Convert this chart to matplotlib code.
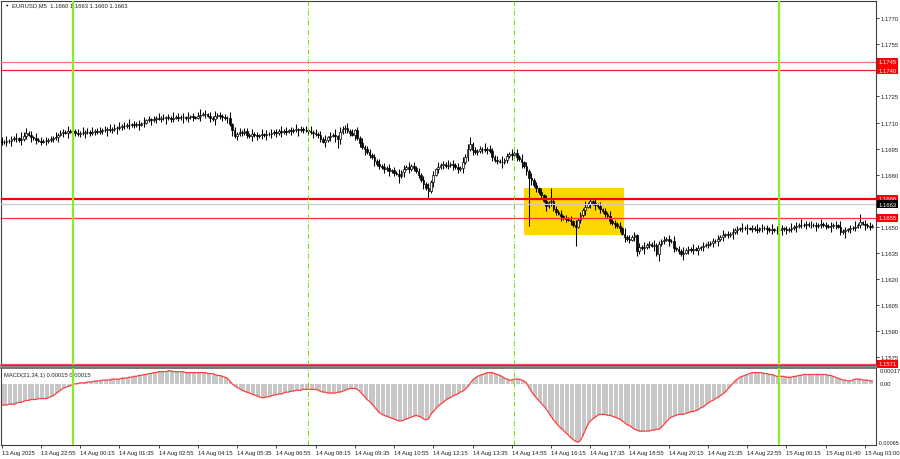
import numpy as np
import matplotlib.pyplot as plt
from matplotlib.patches import Rectangle

plt.rcParams['font.family'] = ['Liberation Sans', 'DejaVu Sans']

# EURUSD M5, closes in points (0.00001) above 1.16000, one value per bar
BASE = 1.16
close_pts = [
    990, 985, 995, 992, 1005, 1012, 1008, 1000, 1003, 1025,
    1040, 1030, 1015, 1008, 998, 995, 990, 996, 993, 1000,
    1005, 1012, 1018, 1030, 1038, 1045, 1042, 1050, 1048, 1052,
    1040, 1035, 1042, 1038, 1045, 1048, 1040, 1046, 1050, 1044,
    1052, 1058, 1055, 1062, 1058, 1063, 1070, 1066, 1075, 1082,
    1080, 1088, 1085, 1090, 1086, 1092, 1088, 1095, 1100, 1112,
    1118, 1115, 1120, 1125, 1122, 1128, 1124, 1130, 1126, 1122,
    1128, 1132, 1127, 1134, 1130, 1125, 1131, 1136, 1130, 1128,
    1138, 1145, 1150, 1147, 1140, 1125, 1118, 1135, 1142, 1138,
    1130, 1125, 1128, 1090, 1055, 1020, 1035, 1048, 1040, 1050,
    1030, 1022, 1035, 1028, 1020, 1026, 1032, 1028, 1036, 1032,
    1040, 1045, 1038, 1050, 1046, 1052, 1048, 1055, 1050, 1058,
    1060, 1054, 1062, 1058, 1056, 1050, 1045, 1040, 1035, 1030,
    1005, 990, 1000, 1015, 1025, 1030, 1020, 1005, 1045, 1060,
    1066, 1050, 1040, 1030, 1055, 1010, 980, 960, 945, 930,
    915, 900, 880, 860, 850, 845, 830, 840, 820, 825,
    810, 805, 790, 815, 835, 845, 830, 850, 840, 820,
    800, 770, 745, 720, 705, 760, 800, 830, 845, 855,
    860, 850, 856, 862, 855, 845, 830, 840, 870, 900,
    945, 975, 940, 930, 935, 945, 950, 940, 948, 935,
    900, 885, 880, 875, 870, 885, 905, 920, 915, 925,
    900, 890, 870, 850, 820, 780, 770, 740, 720, 700,
    680, 650, 620, 640, 650, 600, 585, 575, 560, 550,
    545, 540, 530, 510, 500, 540, 565, 595, 615, 630,
    645, 635, 625, 620, 600, 590, 575, 560, 535, 520,
    515, 505, 490, 460, 440, 430, 425, 440, 450, 360,
    385, 375, 380, 395, 400, 390, 395, 345, 400, 420,
    425, 430, 420, 415, 375, 370, 360, 340, 350, 365,
    370, 365, 372, 368, 375, 380, 390, 395, 400, 405,
    415, 420, 430, 440, 450, 455, 452, 460, 470, 480,
    485, 490, 492, 495, 490, 488, 492, 485, 482, 490,
    494, 490, 486, 480, 484, 482, 478, 480, 490, 485,
    480, 488, 492, 498, 505, 510, 512, 508, 515, 510,
    512, 508, 505, 510, 514, 508, 506, 500, 505, 510,
    508, 500, 470, 475, 480, 485, 490, 495, 500, 510,
    525, 518, 510, 505, 500, 505,
]
first_open = 995

# wick lengths in pips, one digit per bar
wick_up = "".join([
    "2131213142", "3121312121", "2131221312", "1213121312", "2121312131",
    "2131212131", "2121312121", "3121213121", "2312121312", "1213121212",
    "2131213121", "2121312121", "3121213121", "2131213132", "2312121312",
    "2121312121", "2131213121", "2121312131", "2131212132", "3412121312",
    "2121312131", "2131213121", "2131712121", "2121312131", "2131212131",
    "2121312121", "2131213121", "2121312131", "2131212121", "2121312121",
    "2131212131", "2121312121", "2131213121", "2121312121", "2131212131",
    "512121",
])
wick_dn = "".join([
    "2121312131", "2131212121", "1213121312", "2121312121", "1213121312",
    "2121213121", "1312121312", "2121312121", "1312121312", "2131312121",
    "2131212131", "2121312121", "1312121312", "2131213531", "2121312131",
    "2131212131", "2141312121", "2131413121", "2121312131", "2131212121",
    "2121312131", "2131213121", "2131212131", "2121312131", "2131212121",
    "2121312123", "2131213141", "2131212131", "2121312121", "2131212131",
    "2121312121", "2131212131", "2121312121", "2131212131", "2121412121",
    "213121",
])
low_spikes = {215: 505, 234: 388, 259: 330, 267: 330}

# MACD(21,34,1) main line, units of 0.00001
macd_pts = [
    -23, -23, -23, -22, -22, -22, -21, -20, -20, -19,
    -18, -18, -17, -17, -17, -16, -16, -16, -16, -15,
    -14, -13, -11, -9, -7, -5, -4, -3, -2, -1,
    0, 0, 1, 1, 1, 2, 2, 2, 3, 3,
    3, 4, 4, 4, 4, 5, 5, 5, 5, 6,
    6, 6, 7, 7, 8, 8, 9, 9, 10, 10,
    11, 11, 12, 12, 13, 13, 13, 13, 14, 14,
    13, 13, 13, 13, 13, 12, 12, 12, 12, 12,
    12, 12, 12, 12, 11, 11, 11, 10, 9, 9,
    8, 7, 6, 3, 0, -2, -4, -5, -7, -8,
    -9, -10, -11, -12, -13, -14, -15, -15, -14, -14,
    -13, -12, -12, -11, -11, -10, -9, -9, -8, -8,
    -7, -7, -7, -6, -6, -6, -6, -6, -6, -7,
    -8, -9, -9, -10, -10, -10, -10, -9, -9, -8,
    -7, -6, -5, -5, -5, -6, -8, -11, -14, -17,
    -19, -22, -25, -28, -31, -33, -34, -35, -36, -37,
    -38, -39, -40, -40, -39, -38, -37, -36, -35, -34,
    -35, -36, -38, -39, -38, -33, -30, -27, -24, -22,
    -20, -18, -16, -15, -13, -12, -11, -9, -8, -6,
    -3, 0, 4, 6, 8, 9, 10, 11, 12, 12,
    12, 11, 10, 9, 8, 6, 5, 4, 4, 5,
    5, 5, 4, 3, 1, -4, -8, -12, -15, -18,
    -21, -24, -27, -31, -35, -39, -42, -45, -48, -50,
    -53, -55, -58, -60, -62, -63, -61, -56, -50, -44,
    -40, -38, -36, -34, -33, -33, -33, -34, -34, -35,
    -36, -37, -38, -40, -42, -44, -45, -47, -49, -50,
    -51, -51, -51, -51, -51, -50, -50, -49, -49, -47,
    -44, -41, -38, -36, -35, -34, -33, -33, -33, -32,
    -31, -30, -30, -29, -28, -26, -25, -23, -21, -19,
    -18, -16, -15, -13, -11, -9, -6, -3, 0, 3,
    5, 7, 8, 9, 10, 11, 12, 12, 12, 12,
    12, 11, 11, 10, 10, 9, 8, 8, 8, 8,
    7, 7, 7, 8, 8, 9, 9, 10, 10, 10,
    10, 10, 10, 10, 10, 10, 10, 9, 9, 8,
    7, 6, 5, 4, 4, 3, 3, 4, 5, 5,
    5, 4, 4, 4, 3, 3,
]

time_labels = ["13 Aug 2025", "13 Aug 22:55", "14 Aug 00:15", "14 Aug 01:35",
               "14 Aug 02:55", "14 Aug 04:15", "14 Aug 05:35", "14 Aug 06:55",
               "14 Aug 08:15", "14 Aug 09:35", "14 Aug 10:55", "14 Aug 12:15",
               "14 Aug 13:35", "14 Aug 14:55", "14 Aug 16:15", "14 Aug 17:35",
               "14 Aug 18:55", "14 Aug 20:15", "14 Aug 21:35", "14 Aug 22:55",
               "15 Aug 00:15", "15 Aug 01:40", "15 Aug 03:00"]
time_bars = [0, 16, 32, 48, 64, 80, 96, 112, 128, 144, 160, 176, 192, 208,
             224, 240, 256, 272, 288, 304, 320, 336, 352]

price_ticks = [1.1770, 1.1755, 1.1725, 1.1710, 1.1695, 1.1680,
               1.1650, 1.1635, 1.1620, 1.1605, 1.1590, 1.1575]
red_levels = [1.1745, 1.1740, 1.1666, 1.1655, 1.1571]
bid_price = 1.1663
solid_vlines = [29, 317]      # 14 Aug 00:00, 15 Aug 00:00
dash_vlines = [125, 209]      # 14 Aug 08:00, 14 Aug 15:00
zone_bars = (213, 253.7)
zone_prices = (1.16452, 1.16722)

assert len(close_pts) == len(macd_pts) == len(wick_up) == len(wick_dn)

n = len(close_pts)
idx = np.arange(n)
c = BASE + np.array(close_pts) / 1e5
o = np.concatenate([[BASE + first_open / 1e5], c[:-1]])
hi = np.maximum(o, c) + np.array([int(d) for d in wick_up]) * 1e-4
lo = np.minimum(o, c) - np.array([int(d) for d in wick_dn]) * 1e-4
for k, v in low_spikes.items():
    lo[k] = BASE + v / 1e5
macd = np.array(macd_pts) / 1e5

fig = plt.figure(figsize=(9, 4.6), dpi=100)
W, H = 900, 460
ax = fig.add_axes([1 / W, 1 - 366 / H, 875 / W, 364 / H])
ax2 = fig.add_axes([1 / W, 1 - 446 / H, 875 / W, 77 / H])

fs = 4.2
for a in (ax, ax2):
    a.set_xlim(-0.24, 356.5)
    for s in a.spines.values():
        s.set_color('#404040')
        s.set_linewidth(0.8)
ax.spines['bottom'].set_color('#606060')
ax.spines['bottom'].set_linewidth(1.8)
ax2.spines['top'].set_color('#606060')
ax2.spines['top'].set_linewidth(1.2)

# price panel
ax.set_ylim(1.15703, 1.17800)
ax.add_patch(Rectangle((zone_bars[0], zone_prices[0]), zone_bars[1] - zone_bars[0],
                       zone_prices[1] - zone_prices[0], facecolor='#ffd700',
                       edgecolor='none', zorder=0))
ax.vlines(idx, lo, hi, color='black', lw=0.75, zorder=3)
up = c >= o
body_lo = np.minimum(o, c)
body_h = np.maximum(np.abs(c - o), 0.00001)
ax.bar(idx[up], body_h[up], bottom=body_lo[up], width=0.7, facecolor='white',
       edgecolor='black', linewidth=0.5, zorder=4)
ax.bar(idx[~up], body_h[~up], bottom=body_lo[~up], width=0.7, facecolor='black',
       edgecolor='black', linewidth=0.5, zorder=4)

line_styles = {1.1745: ('#ff7070', 0.9), 1.1740: ('#ee2020', 0.9),
               1.1666: ('#ff0000', 1.6), 1.1655: ('#ff3030', 0.9),
               1.1571: ('#ff4040', 0.9)}
ax.axhline(bid_price, color='#c8c8c8', lw=0.9, zorder=5)
for lv in red_levels:
    col, lw = line_styles[lv]
    ax.axhline(lv, color=col, lw=lw, zorder=5)

ax.yaxis.tick_right()
ax.set_yticks(price_ticks, [f"{p:.4f}" for p in price_ticks])
ax.tick_params(axis='y', length=2, width=0.6, pad=1.5, labelsize=fs,
               colors='#202020')
ax.set_xticks([])

ytr = ax.get_yaxis_transform()
for lv in red_levels:
    ax.text(1.003, lv, f"{lv:.4f}", transform=ytr, ha='left', va='center',
            fontsize=fs, color='white', clip_on=False, zorder=10,
            bbox=dict(boxstyle='square,pad=0.25', facecolor='#ff0000', edgecolor='none'))
ax.text(1.003, bid_price, f"{bid_price:.4f}", transform=ytr, ha='left', va='center',
        fontsize=fs, color='white', clip_on=False, zorder=10,
        bbox=dict(boxstyle='square,pad=0.25', facecolor='black', edgecolor='none'))

ax.text(0.004, 0.989, "\u25bc", transform=ax.transAxes, fontsize=3.2,
        ha='left', va='center', color='#202020')
ax.text(0.0126, 0.989, "EURUSD,M5  1.1660 1.1663 1.1660 1.1663", transform=ax.transAxes,
        fontsize=fs, ha='left', va='center', color='#202020')

# MACD panel
ax2.set_ylim(-0.00066, 0.00017)
ax2.vlines(idx, 0, macd, color='#bcbcbc', lw=1.2, zorder=2)
ax2.plot(idx, macd, color='#ff3c3c', lw=0.9, zorder=3)
ax2.set_yticks([])
ax2.text(0.003, 0.92, "MACD(21,34,1) 0.00015 0.00015", transform=ax2.transAxes,
         fontsize=fs, ha='left', va='center', color='#202020')
ytr2 = ax2.get_yaxis_transform()
ax2.text(1.004, 0.00017, "0.00017", transform=ytr2, ha='left', va='top',
         fontsize=fs, color='#202020', clip_on=False)
ax2.text(1.004, 0.0, "0.00", transform=ytr2, ha='left', va='center',
         fontsize=fs, color='#202020', clip_on=False)
ax2.text(1.0015, -0.00066, "-0.00065", transform=ytr2, ha='left', va='bottom',
         fontsize=3.9, color='#202020', clip_on=False)

ax2.set_xticks(time_bars, time_labels, ha='left')
ax2.tick_params(axis='x', length=2, width=0.6, pad=1.5, labelsize=fs,
                colors='#202020')

# vertical markers across both panels
for a in (ax, ax2):
    for b in solid_vlines:
        a.axvline(b, color='#84f01c', lw=1.5, zorder=6)
    for b in dash_vlines:
        a.axvline(b, color='#70e000', lw=0.7, ls=(0, (5, 2, 1, 2)), zorder=6)

fig.savefig('out.png', dpi=100, facecolor='white')
